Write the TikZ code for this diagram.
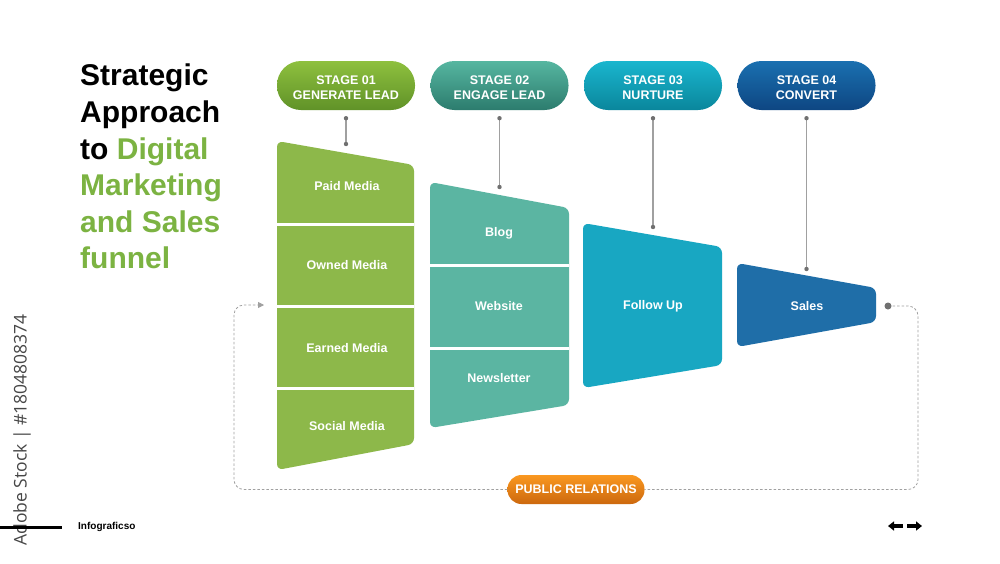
\documentclass[tikz,border=0pt]{standalone}
\usepackage{fontspec}
\setmainfont{Liberation Sans}
\newfontfamily\stockfont{Open Sans}
\usepackage{tikz}
\usetikzlibrary{arrows.meta, positioning}
\usepackage{xcolor}
\definecolor{titlegreen}{RGB}{124,179,66}
\definecolor{leadgreen}{RGB}{141,184,74}
\definecolor{engageteal}{RGB}{91,181,162}
\definecolor{nurturecyan}{RGB}{24,167,194}
\definecolor{convertblue}{RGB}{31,110,168}
\definecolor{linkgray}{RGB}{160,160,160}
\definecolor{loopgray}{RGB}{160,160,160}

\begin{document}
\begin{tikzpicture}[x=1pt, y=-1pt,
   every node/.style={font=\fontsize{12.5}{15}\selectfont\bfseries, text=white, inner sep=0pt},
   pill/.style={rectangle, rounded corners=24pt, minimum width=138pt, minimum height=49pt,
                align=center, text height=28.5pt},
   link/.style={draw=linkgray, line width=1.3pt},
   dot/.style={fill=linkgray!70!black},
   loopline/.style={draw=loopgray, line width=0.8pt, dash pattern=on 2.5pt off 2pt, rounded corners=10pt}]

  \useasboundingbox[fill=white] (0,0) rectangle (1000,563);

  % Title
  \node[anchor=north west, align=left, text=black,
        font=\fontsize{30}{36.6}\selectfont\bfseries] (title) at (80,64)
       {Strategic\\Approach\\to \textcolor{titlegreen}{Digital}\\
        \textcolor{titlegreen}{Marketing}\\\textcolor{titlegreen}{and Sales}\\
        \textcolor{titlegreen}{funnel}};

  % Stage pills
  \node[pill, top color={rgb,255:red,142;green,192;blue,62}, bottom color={rgb,255:red,96;green,146;blue,40}]
       (s1) at (346,85.5) {STAGE 01\\GENERATE LEAD};
  \node[pill, top color={rgb,255:red,86;green,182;blue,160}, bottom color={rgb,255:red,44;green,124;blue,110}]
       (s2) at (499.5,85.5) {STAGE 02\\ENGAGE LEAD};
  \node[pill, top color={rgb,255:red,26;green,182;blue,206}, bottom color={rgb,255:red,10;green,134;blue,156}]
       (s3) at (653,85.5) {STAGE 03\\NURTURE};
  \node[pill, top color={rgb,255:red,26;green,112;blue,176}, bottom color={rgb,255:red,14;green,70;blue,130}]
       (s4) at (806.5,85.5) {STAGE 04\\CONVERT};

  % Funnel blocks
  \fill[leadgreen, rounded corners=6pt] (277,141) -- (414,165) -- (414,444) -- (277,470) -- cycle;
  \fill[engageteal, rounded corners=6pt] (430,182) -- (569,208) -- (569,405) -- (430,428) -- cycle;
  \fill[nurturecyan, rounded corners=6pt] (583,223) -- (722,247) -- (722,365) -- (583,388) -- cycle;
  \fill[convertblue, rounded corners=6pt] (737,263) -- (876,288) -- (876,322) -- (737,347) -- cycle;
  \foreach \y in {224,306,388}
    \draw[white, line width=3pt] (277,\y) -- (414,\y);
  \foreach \y in {265,348}
    \draw[white, line width=3pt] (430,\y) -- (569,\y);

  % Block labels
  \node (paid)   at (347,186) {Paid Media};
  \node (owned)  at (347,265) {Owned Media};
  \node (earned) at (347,348) {Earned Media};
  \node (social) at (347,426) {Social Media};
  \node (blog)   at (499,233) {Blog};
  \node (web)    at (499,306) {Website};
  \node (news)   at (499,378) {Newsletter};
  \node (follow) at (653,306) {Follow Up};
  \node (sales)  at (807,306) {Sales};

  % Stage connectors
  \coordinate[below=8pt of s1] (t1);
  \coordinate[below=8pt of s2] (t2);
  \coordinate[below=8pt of s3] (t3);
  \coordinate[below=8pt of s4] (t4);
  \coordinate (d1) at (346,144);
  \coordinate (d2) at (499.5,187);
  \coordinate (d3) at (653,227);
  \coordinate (d4) at (806.5,269);
  \foreach \i in {1,...,4} {
    \draw[link] (t\i) -- (d\i);
    \fill[dot] (t\i) circle[radius=2.2pt] (d\i) circle[radius=2.2pt];
  }

  % Public relations loop
  \node[rectangle, rounded corners=14pt, minimum width=137pt, minimum height=29pt,
        top color={rgb,255:red,250;green,152;blue,32}, bottom color={rgb,255:red,204;green,104;blue,14}]
       (pr) at (576,489.5) {PUBLIC RELATIONS};
  \coordinate (fb) at (888,306);
  \coordinate (rc) at (918,489.5);
  \coordinate (lc) at (234,489.5);
  \coordinate (back) at (264,305);
  \draw[loopline] (fb) -| (rc) -- (pr.east);
  \draw[loopline, -{Triangle[length=6pt,width=6pt]}] (pr.west) -- (lc) |- (back);
  \fill[linkgray!70!black] (fb) circle[radius=3.5pt];

  % Footer
  \node[rotate=90, text={rgb,255:red,70;green,70;blue,70},
        font=\stockfont\fontsize{17.5}{20}\selectfont] (stock) at (22,430)
       {Adobe Stock | \#1804808374};
  \draw[line width=3pt] (0,527) -- (62,527);
  \node[anchor=west, text=black, font=\fontsize{10}{12}\selectfont\bfseries] (brand) at (78,527) {Infograficso};
  \coordinate (nav) at (905,526);
  \draw[line width=3.5pt, -{Triangle[length=6pt,width=9pt]}] ([xshift=-2pt]nav) -- ++(-15,0);
  \draw[line width=3.5pt, -{Triangle[length=6pt,width=9pt]}] ([xshift=2pt]nav) -- ++(15,0);
\end{tikzpicture}
\end{document}
